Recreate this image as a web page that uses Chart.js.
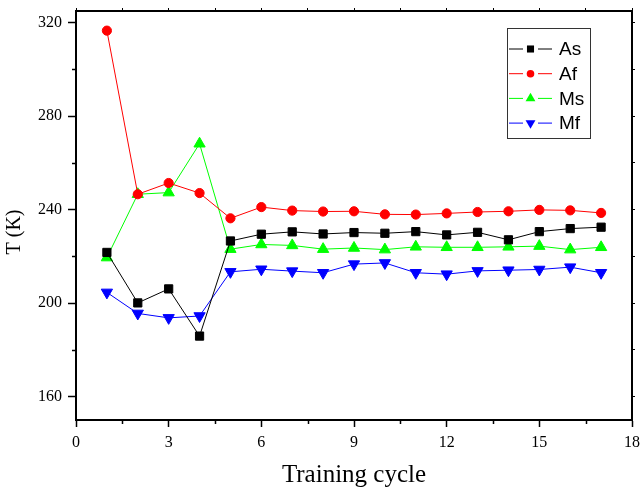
<!DOCTYPE html>
<html>
<head>
<meta charset="utf-8">
<script src="https://cdn.jsdelivr.net/npm/chart.js@4.4.1/dist/chart.umd.min.js"></script>
<style>
  html, body { margin: 0; padding: 0; background: #fff; }
  #wrap { width: 640px; height: 488px; }
</style>
</head>
<body>
<div id="wrap"><canvas id="myChart" width="640" height="488"></canvas></div>
<script>
// data
const cycles = [1, 2, 3, 4, 5, 6, 7, 8, 9, 10, 11, 12, 13, 14, 15, 16, 17];
const asValues = [221.7, 200.1, 206.1, 185.9, 226.6, 229.5, 230.5, 229.6, 230.2, 229.9, 230.6, 229.2, 230.3, 227.1, 230.6, 231.9, 232.5];
const afValues = [316.6, 246.6, 251.4, 247.1, 236.3, 241.1, 239.6, 239.2, 239.3, 238.0, 237.9, 238.4, 239.0, 239.3, 239.9, 239.7, 238.6];
const msValues = [219.5, 246.6, 247.3, 268.2, 223.1, 225.1, 224.7, 223.1, 223.6, 222.9, 224.1, 223.9, 223.9, 224.1, 224.4, 222.9, 223.9];
const mfValues = [204.6, 195.6, 193.7, 194.5, 213.4, 214.5, 213.7, 213.0, 216.7, 217.2, 213.0, 212.4, 213.8, 214.1, 214.4, 215.4, 213.0];

const xTicks = [0, 1.5, 3, 4.5, 6, 7.5, 9, 10.5, 12, 13.5, 15, 16.5, 18];
const yTicks = [160, 180, 200, 220, 240, 260, 280, 300, 320];

const serif = "'Liberation Serif', 'Times New Roman', serif";
const sans = "'Liberation Sans', Arial, sans-serif";

function toPoints(values) {
    return cycles.map((c, i) => ({ x: c, y: values[i] }));
}

function series(label, values, color, style, radius, rotation) {
    return {
        label: label,
        data: toPoints(values),
        borderColor: color,
        backgroundColor: color,
        borderWidth: 1,
        pointStyle: style,
        pointRadius: radius,
        pointRotation: rotation || 0,
        pointBorderWidth: 1,
        pointBackgroundColor: color,
        pointBorderColor: color,
        tension: 0
    };
}

const datasets = [
    series('As', asValues, '#000000', 'rect', 5.8),
    series('Af', afValues, '#ff0000', 'circle', 4.6),
    series('Ms', msValues, '#00ff00', 'triangle', 6.5),
    series('Mf', mfValues, '#0000ff', 'triangle', 6.5, 180)
];

// short minor ticks, y axis title, Origin style legend
const extras = {
    id: 'extras',
    afterDraw(chart) {
        const ctx = chart.ctx;
        const x = chart.scales.x, y = chart.scales.y;
        const area = chart.chartArea;
        ctx.save();
        ctx.strokeStyle = '#000';
        ctx.lineWidth = 1.5;
        ctx.beginPath();
        xTicks.forEach(v => {
            if (v % 3 !== 0) {
                const px = Math.round(x.getPixelForValue(v)) + 0.5;
                ctx.moveTo(px, area.bottom);
                ctx.lineTo(px, area.bottom + 4);
            }
        });
        yTicks.forEach(v => {
            if (v % 40 !== 0) {
                const py = Math.round(y.getPixelForValue(v)) + 0.5;
                ctx.moveTo(area.left, py);
                ctx.lineTo(area.left - 4, py);
            }
        });
        ctx.stroke();

        // y title
        ctx.fillStyle = '#000';
        ctx.font = '20px ' + serif;
        ctx.textAlign = 'center';
        ctx.textBaseline = 'middle';
        ctx.translate(15, 232);
        ctx.rotate(-Math.PI / 2);
        ctx.fillText('T (K)', 0, 0);
        ctx.restore();

        // legend
        ctx.save();
        ctx.strokeStyle = '#333';
        ctx.lineWidth = 1;
        ctx.fillStyle = '#fff';
        ctx.fillRect(507, 28, 83, 110);
        ctx.strokeRect(507.5, 28.5, 83, 110);
        ctx.font = '19px ' + sans;
        ctx.textAlign = 'left';
        ctx.textBaseline = 'middle';
        chart.data.datasets.forEach((ds, i) => {
            const ly = 49 + i * 24.7;
            ctx.strokeStyle = ds.borderColor;
            ctx.lineWidth = 1;
            ctx.beginPath();
            ctx.moveTo(509, ly);
            ctx.lineTo(523, ly);
            ctx.moveTo(538, ly);
            ctx.lineTo(552, ly);
            ctx.stroke();
            ctx.fillStyle = ds.pointBackgroundColor;
            Chart.helpers.drawPoint(ctx, {
                pointStyle: ds.pointStyle,
                radius: ds.pointRadius - 0.8,
                rotation: ds.pointRotation,
                borderWidth: 0
            }, 530.5, ly);
            ctx.fillStyle = '#000';
            ctx.fillText(ds.label, 559, ly + 1);
        });
        ctx.restore();
    }
};

const ctx = document.getElementById('myChart').getContext('2d');
const myChart = new Chart(ctx, {
    type: 'line',
    data: { datasets: datasets },
    plugins: [extras],
    options: {
        responsive: false,
        animation: false,
        layout: { padding: 0 },
        plugins: {
            legend: { display: false },
            tooltip: { enabled: false }
        },
        scales: {
            x: {
                type: 'linear',
                position: 'bottom',
                min: 0,
                max: 18,
                afterBuildTicks: s => { s.ticks = xTicks.map(v => ({ value: v })); },
                afterFit: s => { s.height = 68; s.paddingLeft = 0; s.paddingRight = 0; },
                border: { color: '#000', width: 2 },
                grid: {
                    drawOnChartArea: false,
                    tickLength: 7,
                    tickWidth: 1.5,
                    tickColor: c => (c.tick && c.tick.value % 3 === 0) ? '#000' : 'rgba(0,0,0,0)'
                },
                ticks: {
                    autoSkip: false,
                    maxRotation: 0,
                    padding: 6,
                    color: '#000',
                    font: { family: serif, size: 16 },
                    callback: v => (v % 3 === 0 ? v : '')
                },
                title: {
                    display: true,
                    text: 'Training cycle',
                    color: '#000',
                    font: { family: serif, size: 25, lineHeight: 1 },
                    padding: { top: 0, bottom: 0 }
                }
            },
            y: {
                type: 'linear',
                position: 'left',
                min: 150,
                max: 325,
                afterBuildTicks: s => { s.ticks = yTicks.map(v => ({ value: v })); },
                afterFit: s => { s.width = 76; s.paddingTop = 0; s.paddingBottom = 0; },
                border: { color: '#000', width: 2 },
                grid: {
                    drawOnChartArea: false,
                    tickLength: 8,
                    tickWidth: 1.5,
                    tickColor: c => (c.tick && c.tick.value % 40 === 0) ? '#000' : 'rgba(0,0,0,0)'
                },
                ticks: {
                    autoSkip: false,
                    padding: 6,
                    color: '#000',
                    font: { family: serif, size: 16 },
                    callback: v => (v % 40 === 0 ? v : '')
                }
            },
            xTop: {
                type: 'linear',
                position: 'top',
                min: 0,
                max: 18,
                afterBuildTicks: s => { s.ticks = xTicks.map(v => ({ value: v })); },
                afterFit: s => { s.height = 11; s.paddingLeft = 0; s.paddingRight = 0; },
                border: { color: '#000', width: 2 },
                grid: { drawOnChartArea: false, tickLength: 3, tickColor: '#000' },
                ticks: { display: false }
            },
            yRight: {
                type: 'linear',
                position: 'right',
                min: 150,
                max: 325,
                afterBuildTicks: s => { s.ticks = yTicks.map(v => ({ value: v })); },
                afterFit: s => { s.width = 8; s.paddingTop = 0; s.paddingBottom = 0; },
                border: { color: '#000', width: 2 },
                grid: { drawOnChartArea: false, tickLength: 3, tickColor: '#000' },
                ticks: { display: false }
            }
        }
    }
});
</script>
</body>
</html>
